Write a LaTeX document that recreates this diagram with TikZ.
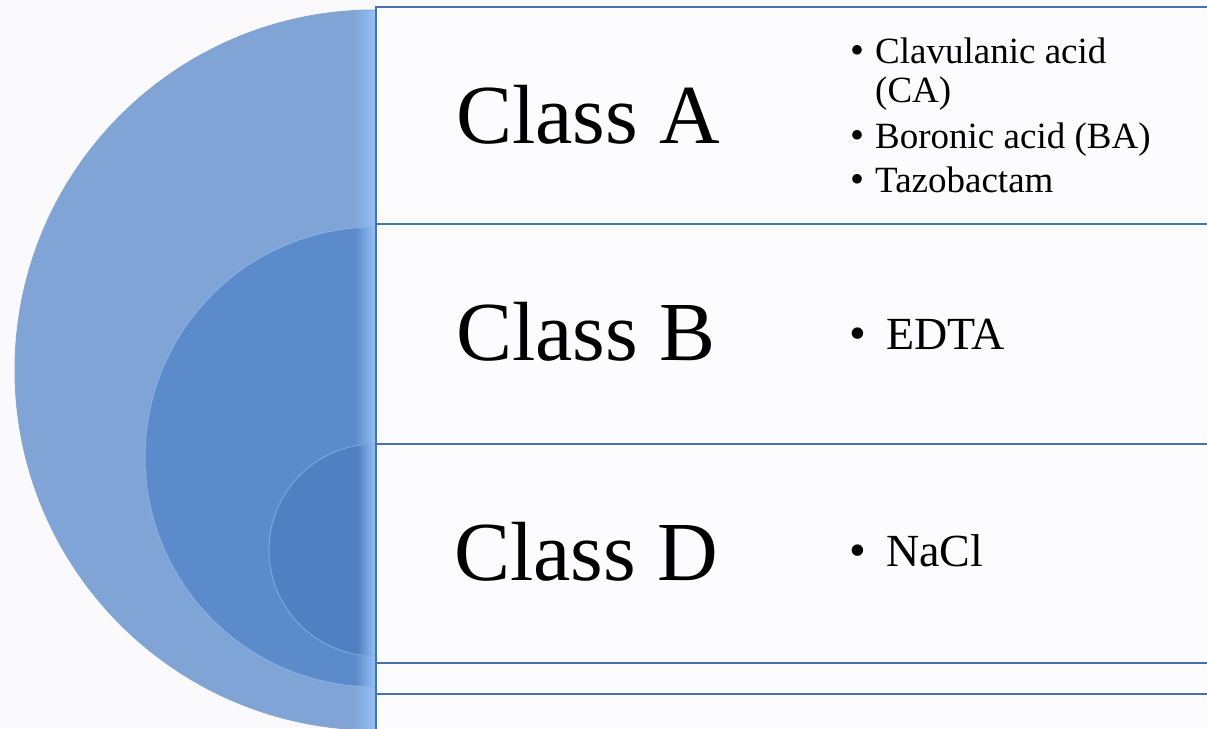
\documentclass[tikz,border=0pt]{standalone}
\usepackage{fontspec}
\setmainfont{Liberation Serif}
\definecolor{bg}{HTML}{FAFAFC}
\definecolor{outerc}{HTML}{7FA4D5}
\definecolor{midc}{HTML}{5B8BCA}
\definecolor{innc}{HTML}{4F80C1}
\definecolor{edgec}{HTML}{97C0F6}
\definecolor{arcc}{HTML}{86A6CF}
\definecolor{rulec}{HTML}{4672AE}
\definecolor{boxc}{HTML}{FCFBFD}
\tikzset{
  rowbox/.style={draw=rulec, line width=2.4pt, fill=boxc},
  clslabel/.style={anchor=base west, inner sep=0pt, font=\fontsize{84}{84}\selectfont},
  itemtext/.style={anchor=base west, inner sep=0pt, font=\fontsize{37}{39}\selectfont},
  bigitem/.style={anchor=base west, inner sep=0pt, font=\fontsize{46}{48}\selectfont},
  bulletmark/.style={anchor=base, inner sep=0pt, font=\fontsize{40}{40}\selectfont},
  bigbullet/.style={anchor=base, inner sep=0pt, font=\fontsize{48}{48}\selectfont},
}
\begin{document}
\begin{tikzpicture}[x=1pt,y=-1pt]
\useasboundingbox (0,0) rectangle (1207,728);
\fill[bg] (0,0) rectangle (1207,728);
% outer half disc
\begin{scope}
  \clip (0,0) rectangle (375.5,740);
  \fill[outerc] (375,370) circle[radius=360];
  \begin{scope}
    \clip (375,370) circle[radius=360];
    \shade[left color=outerc, right color=edgec] (352,0) rectangle (375.5,740);
  \end{scope}
  \draw[arcc, line width=1pt] (375,370) circle[radius=360];
  % middle half disc
  \fill[midc] (375,457) circle[radius=230];
  \begin{scope}
    \clip (375,457) circle[radius=230];
    \shade[left color=midc, right color=edgec] (355,0) rectangle (375.5,740);
  \end{scope}
  \draw[edgec!70!midc, line width=1pt] (375,457) circle[radius=230];
  % inner half disc
  \fill[innc] (375,550) circle[radius=106];
  \begin{scope}
    \clip (375,550) circle[radius=106];
    \shade[left color=innc, right color=edgec] (357,0) rectangle (375.5,740);
  \end{scope}
  \draw[edgec!60!innc, line width=1pt] (375,550) circle[radius=106];
\end{scope}
% rows
\draw[rowbox] (376,7) rectangle (1220,224);
\draw[rowbox] (376,224) rectangle (1220,444);
\draw[rowbox] (376,444) rectangle (1220,663);
\draw[rowbox] (376,663) rectangle (1220,694);
\draw[rowbox] (376,694) rectangle (1220,740);
% class labels
\node[clslabel] (clsA) at (456,143) {Class A};
\node[clslabel] (clsB) at (456,360) {Class B};
\node[clslabel] (clsD) at (454,580) {Class D};
% class A items
\node[bulletmark] (bA1) at (857,63) {\textbullet};
\node[itemtext] (tA1) at (875,63) {Clavulanic acid};
\node[itemtext] (tA1b) at (875,102) {(CA)};
\node[bulletmark] (bA2) at (857,148) {\textbullet};
\node[itemtext] (tA2) at (875,148) {Boronic acid (BA)};
\node[bulletmark] (bA3) at (857,192) {\textbullet};
\node[itemtext] (tA3) at (875,192) {Tazobactam};
% class B item
\node[bigbullet] (bB1) at (858,349) {\textbullet};
\node[bigitem] (tB1) at (886,349) {EDTA};
% class D item
\node[bigbullet] (bD1) at (858,566) {\textbullet};
\node[bigitem] (tD1) at (886,566) {NaCl};
\end{tikzpicture}
\end{document}
